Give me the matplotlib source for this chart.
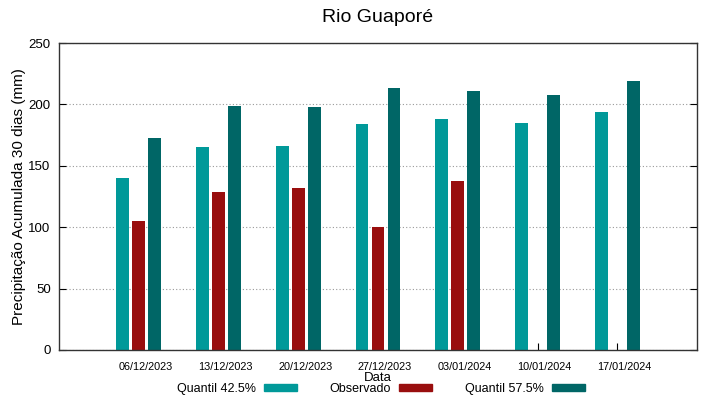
import numpy as np
import matplotlib
matplotlib.use('Agg')
import matplotlib.pyplot as plt
import matplotlib.transforms as mtransforms
from matplotlib.patches import Patch

plt.rcParams['font.family'] = ['Liberation Sans', 'DejaVu Sans']

# data
datas = ["06/12/2023", "13/12/2023", "20/12/2023", "27/12/2023",
         "03/01/2024", "10/01/2024", "17/01/2024"]
quantil_425 = [140, 165, 166, 184, 188, 185, 194]
observado = [105, 129, 132, 100, 138, np.nan, np.nan]
quantil_575 = [173, 199, 198, 213, 211, 208, 219]

cor_q1 = '#009999'
cor_obs = '#990e0e'
cor_q2 = '#006666'

fig = plt.figure(figsize=(7.19, 3.99), dpi=100)
ax = fig.add_axes([59/719, 1-350/399, (697-59)/719, (350-43)/399])

x = np.arange(len(datas))
w = 0.16
ax.bar(x - 0.2, quantil_425, width=w, color=cor_q1)
ax.bar(x, observado, width=w, color=cor_obs)
ax.bar(x + 0.2, quantil_575, width=w, color=cor_q2)

ax.set_xlim(-1, 7)
ax.set_ylim(0, 250)
ax.set_yticks([0, 50, 100, 150, 200, 250])
ax.set_xticks(x)
ax.set_xticklabels(datas, fontsize=7.8)
ax.tick_params(axis='y', direction='in', right=True, labelsize=9.5, length=5, pad=6)
ax.tick_params(axis='x', direction='in', top=False, length=5, pad=9)
ax.set_axisbelow(True)
ax.yaxis.grid(True, color='#999999', linestyle=(0, (1, 2)), linewidth=0.8)

# x labels sit a bit right of the ticks in the original
shift = mtransforms.ScaledTranslation(7/100, 0, fig.dpi_scale_trans)
for lbl in ax.get_xticklabels():
  lbl.set_transform(lbl.get_transform() + shift)

for s in ax.spines.values():
  s.set_color('#333333')
  s.set_linewidth(1)

ax.set_ylabel("Precipitação Acumulada 30 dias (mm)", fontsize=11, labelpad=2)
fig.text(378/719, 1-378/399, "Data", ha='center', va='center', fontsize=9.5)
fig.text(378/719, 1-17/399, "Rio Guaporé", ha='center', va='center', fontsize=14)

handles = [Patch(color=cor_q1), Patch(color=cor_obs), Patch(color=cor_q2)]
labels = ["Quantil 42.5%", "Observado", "Quantil 57.5%"]
fig.legend(handles, labels, loc='center', bbox_to_anchor=(381/719, 1-389/399),
           ncol=3, frameon=False, markerfirst=False, fontsize=9,
           handlelength=2.64, handleheight=0.45, handletextpad=0.64,
           columnspacing=2.6, borderpad=0)

fig.savefig("out.png", dpi=100)
